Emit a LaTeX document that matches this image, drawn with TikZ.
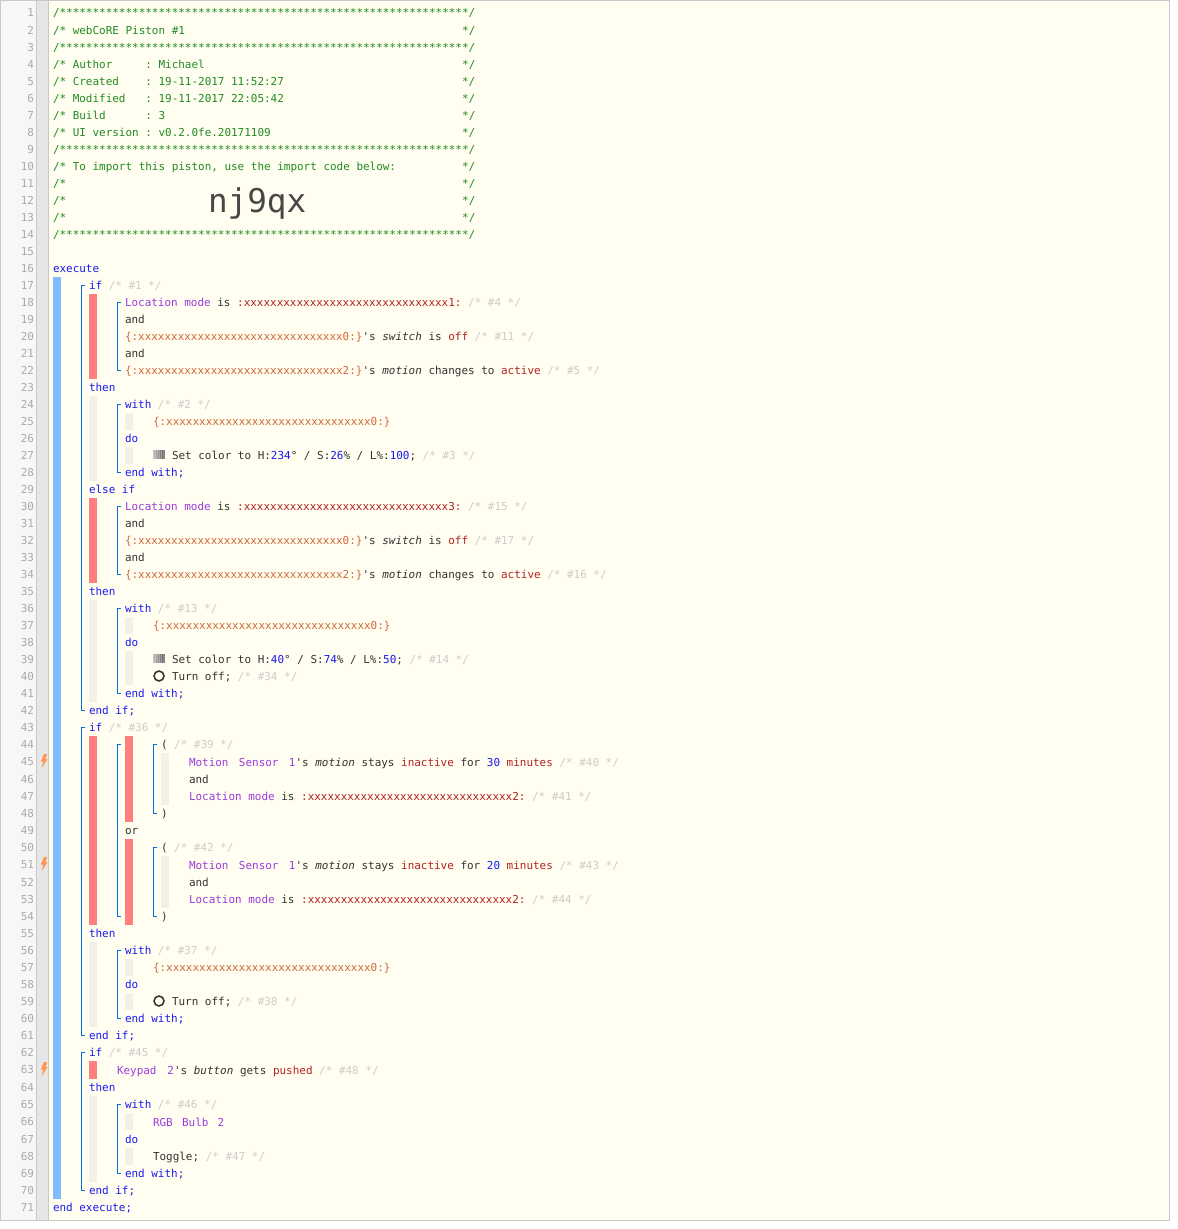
\documentclass[tikz,border=0pt]{standalone}
\usepackage{fontspec}
\setmonofont{DejaVu Sans Mono}
\definecolor{pagebg}{HTML}{FFFEF0}
\definecolor{numgut}{HTML}{F7F7F7}
\definecolor{foldgut}{HTML}{E6E6E6}
\definecolor{frameg}{HTML}{C8C8C8}
\definecolor{numtx}{HTML}{AAAAAA}
\definecolor{ccom}{HTML}{228B22}
\definecolor{ckw}{HTML}{1A1AEE}
\definecolor{cdev}{HTML}{9A3DE0}
\definecolor{cval}{HTML}{B22222}
\definecolor{cvar}{HTML}{D2693C}
\definecolor{cnote}{HTML}{CCCCCC}
\definecolor{ctxt}{HTML}{333333}
\definecolor{cnum}{HTML}{1A1AEE}
\definecolor{barblue}{HTML}{80BBFF}
\definecolor{barred}{HTML}{FF7F7F}
\definecolor{bargrey}{HTML}{F2F0E8}
\definecolor{brk}{HTML}{0072E0}
\definecolor{bolt}{HTML}{FF9650}
\newcommand\ws[1]{\hspace*{#1\dimexpr 4.95pt\relax}}
\newcommand\kw[1]{\textcolor{ckw}{#1}}
\newcommand\cmt[1]{\textcolor{ccom}{#1}}
\newcommand\nt[1]{\textcolor{cnote}{/* \##1 */}}
\newcommand\dvc[1]{\textcolor{cdev}{#1}}
\newcommand\vlu[1]{\textcolor{cval}{#1}}
\newcommand\vrb[1]{\textcolor{cvar}{#1}}
\newcommand\nmb[1]{\textcolor{cnum}{#1}}
\newcommand\xs{xxxxxxxxxxxxxxxxxxxxxxxxxxxxxxx}
\newcommand\starline{/**************************************************************/}
\newcommand\locm{\dvc{Location mode} is }
\newcommand\wide[1]{\hspace*{#1pt}}
\tikzset{
  x=0.75pt,y=-0.75pt,
  code/.style={anchor=base west,inner sep=0pt,outer sep=0pt,font=\ttfamily\fontsize{8.22pt}{10pt}\selectfont,text=ctxt},
  lineno/.style={anchor=base east,inner sep=0pt,outer sep=0pt,font=\ttfamily\fontsize{8.22pt}{10pt}\selectfont,text=numtx},
  bigcode/.style={anchor=base west,inner sep=0pt,outer sep=0pt,font=\ttfamily\fontsize{24.5pt}{28pt}\selectfont,text=ctxt!90},
  bracket/.style={draw=brk,line width=0.75pt},
}
\newcommand\blk[5]{\fill[#5] (#1,#2) rectangle (#3,#4);}
\newcommand\brkt[3]{\draw[bracket] (#1+3.5,#2) -- (#1,#2) -- (#1,#3) -- (#1+3.5,#3);}
\newcommand\cl[4]{\node[code] (t#1) at (#2,#3+4) {#4};}
\newcommand\hueicon[2]{%
  \foreach \ix/\sh in {0/22,1/30,2/24,3/36,4/30,5/42,6/34,7/48,8/40,9/55,10/45,11/50}{
    \fill[black!\sh] (#1+\ix,#2-5) rectangle (#1+\ix+1.05,#2+4);}}
\newcommand\onicon[2]{\draw[ctxt,line width=1.15pt] (#1,#2) circle (5);}
\newcommand\bolticon[2]{\fill[bolt] (#1+1,#2-7) -- (#1+4,#2-7) -- (#1+2.5,#2-2) -- (#1+4.5,#2-2) -- (#1-1.2,#2+7) -- (#1+0.2,#2+0.5) -- (#1-2.2,#2+0.5) -- cycle;}
\begin{document}
\begin{tikzpicture}
\useasboundingbox (0,0) rectangle (1178,1229);
\fill[white] (0,0) rectangle (1178,1229);
\fill[pagebg] (0,0) rectangle (1170,1221);
\fill[numgut] (0,0) rectangle (36.5,1221);
\fill[foldgut] (36.5,0) rectangle (48.5,1221);
\draw[frameg,line width=0.75pt] (36.5,0) -- (36.5,1221);
\draw[frameg,line width=0.75pt] (48.5,0) -- (48.5,1221);
\draw[frameg,line width=1pt] (0.5,0.5) rectangle (1169.5,1220.5);
\foreach \n/\y in {1/12,2/30,3/47,4/64,5/81,6/98,7/115,8/132,9/149,10/166,11/183,12/200,13/217,14/234,15/251,16/268,17/285,18/302,19/319,20/336,21/353,22/370,23/387,24/404,25/421,26/438,27/455,28/472,29/489,30/506,31/523,32/540,33/557,34/574,35/591,36/608,37/625,38/642,39/659,40/676,41/693,42/710,43/727,44/744,45/761,46/779,47/796,48/813,49/830,50/847,51/864,52/882,53/899,54/916,55/933,56/950,57/967,58/984,59/1001,60/1018,61/1035,62/1052,63/1069,64/1087,65/1104,66/1121,67/1139,68/1156,69/1173,70/1190,71/1207}
  {\node[lineno] (n\n) at (34,\y+4) {\n};}
\bolticon{43}{761}
\bolticon{43}{864}
\bolticon{43}{1069}
\blk{53}{277}{61}{1199}{barblue}
\blk{89}{294}{97}{379}{barred}
\blk{89}{396}{97}{481}{bargrey}
\blk{125}{413}{133}{430}{bargrey}
\blk{125}{447}{133}{464}{bargrey}
\blk{89}{498}{97}{583}{barred}
\blk{89}{600}{97}{702}{bargrey}
\blk{125}{617}{133}{634}{bargrey}
\blk{125}{651}{133}{685}{bargrey}
\blk{89}{736}{97}{925}{barred}
\blk{125}{736}{133}{822}{barred}
\blk{125}{839}{133}{925}{barred}
\blk{161}{753}{169}{805}{bargrey}
\blk{161}{856}{169}{908}{bargrey}
\blk{89}{942}{97}{1027}{bargrey}
\blk{125}{959}{133}{976}{bargrey}
\blk{125}{993}{133}{1010}{bargrey}
\blk{89}{1061}{97}{1079}{barred}
\blk{89}{1096}{97}{1182}{bargrey}
\blk{125}{1113}{133}{1130}{bargrey}
\blk{125}{1148}{133}{1165}{bargrey}
\brkt{81.5}{285}{710}
\brkt{81.5}{727}{1035}
\brkt{81.5}{1052}{1190}
\brkt{117.5}{302}{370}
\brkt{117.5}{404}{472}
\brkt{117.5}{506}{574}
\brkt{117.5}{608}{693}
\brkt{117.5}{744}{916}
\brkt{153.5}{744}{813}
\brkt{153.5}{847}{916}
\brkt{117.5}{950}{1018}
\brkt{117.5}{1104}{1173}
\cl{1}{53}{12}{\cmt{\starline}}
\cl{2}{53}{30}{\cmt{/* webCoRE Piston \#1\ws{42}*/}}
\cl{3}{53}{47}{\cmt{\starline}}
\cl{4}{53}{64}{\cmt{/* Author\ws{5}: Michael\ws{39}*/}}
\cl{5}{53}{81}{\cmt{/* Created\ws{4}: 19-11-2017 11:52:27\ws{27}*/}}
\cl{6}{53}{98}{\cmt{/* Modified\ws{3}: 19-11-2017 22:05:42\ws{27}*/}}
\cl{7}{53}{115}{\cmt{/* Build\ws{6}: 3\ws{45}*/}}
\cl{8}{53}{132}{\cmt{/* UI version : v0.2.0fe.20171109\ws{29}*/}}
\cl{9}{53}{149}{\cmt{\starline}}
\cl{10}{53}{166}{\cmt{/* To import this piston, use the import code below:\ws{10}*/}}
\cl{11}{53}{183}{\cmt{/*\ws{60}*/}}
\cl{12}{53}{200}{\cmt{/*\ws{60}*/}}
\node[bigcode] (code) at (208,212) {nj9qx};
\cl{13}{53}{217}{\cmt{/*\ws{60}*/}}
\cl{14}{53}{234}{\cmt{\starline}}
\cl{16}{53}{268}{\kw{execute}}
\cl{17}{89}{285}{\kw{if} \nt{1}}
\cl{18}{125}{302}{\locm\vlu{:\xs 1:} \nt{4}}
\cl{19}{125}{319}{and}
\cl{20}{125}{336}{\vrb{\{:\xs 0:\}}'s \textit{switch} is \vlu{off} \nt{11}}
\cl{21}{125}{353}{and}
\cl{22}{125}{370}{\vrb{\{:\xs 2:\}}'s \textit{motion} changes to \vlu{active} \nt{5}}
\cl{23}{89}{387}{\kw{then}}
\cl{24}{125}{404}{\kw{with} \nt{2}}
\cl{25}{153}{421}{\vrb{\{:\xs 0:\}}}
\cl{26}{125}{438}{\kw{do}}
\hueicon{153}{455}
\cl{27}{172}{455}{Set color to H:\nmb{234}° / S:\nmb{26}\% / L\%:\nmb{100}; \nt{3}}
\cl{28}{125}{472}{\kw{end with;}}
\cl{29}{89}{489}{\kw{else if}}
\cl{30}{125}{506}{\locm\vlu{:\xs 3:} \nt{15}}
\cl{31}{125}{523}{and}
\cl{32}{125}{540}{\vrb{\{:\xs 0:\}}'s \textit{switch} is \vlu{off} \nt{17}}
\cl{33}{125}{557}{and}
\cl{34}{125}{574}{\vrb{\{:\xs 2:\}}'s \textit{motion} changes to \vlu{active} \nt{16}}
\cl{35}{89}{591}{\kw{then}}
\cl{36}{125}{608}{\kw{with} \nt{13}}
\cl{37}{153}{625}{\vrb{\{:\xs 0:\}}}
\cl{38}{125}{642}{\kw{do}}
\hueicon{153}{659}
\cl{39}{172}{659}{Set color to H:\nmb{40}° / S:\nmb{74}\% / L\%:\nmb{50}; \nt{14}}
\onicon{159}{676}
\cl{40}{172}{676}{Turn off; \nt{34}}
\cl{41}{125}{693}{\kw{end with;}}
\cl{42}{89}{710}{\kw{end if;}}
\cl{43}{89}{727}{\kw{if} \nt{36}}
\cl{44}{161}{744}{( \nt{39}}
\cl{45}{189}{762}{\dvc{Motion \wide{2.85}Sensor \wide{2.85}1}'s \textit{motion} stays \vlu{inactive} for \nmb{30} \vlu{minutes} \nt{40}}
\cl{46}{189}{779}{and}
\cl{47}{189}{796}{\locm\vlu{:\xs 2:} \nt{41}}
\cl{48}{161}{813}{)}
\cl{49}{125}{830}{or}
\cl{50}{161}{847}{( \nt{42}}
\cl{51}{189}{865}{\dvc{Motion \wide{2.85}Sensor \wide{2.85}1}'s \textit{motion} stays \vlu{inactive} for \nmb{20} \vlu{minutes} \nt{43}}
\cl{52}{189}{882}{and}
\cl{53}{189}{899}{\locm\vlu{:\xs 2:} \nt{44}}
\cl{54}{161}{916}{)}
\cl{55}{89}{933}{\kw{then}}
\cl{56}{125}{950}{\kw{with} \nt{37}}
\cl{57}{153}{967}{\vrb{\{:\xs 0:\}}}
\cl{58}{125}{984}{\kw{do}}
\onicon{159}{1001}
\cl{59}{172}{1001}{Turn off; \nt{38}}
\cl{60}{125}{1018}{\kw{end with;}}
\cl{61}{89}{1035}{\kw{end if;}}
\cl{62}{89}{1052}{\kw{if} \nt{45}}
\cl{63}{117}{1070}{\dvc{Keypad \wide{3.2}2}'s \textit{button} gets \vlu{pushed} \nt{48}}
\cl{64}{89}{1087}{\kw{then}}
\cl{65}{125}{1104}{\kw{with} \nt{46}}
\cl{66}{153}{1122}{\dvc{RGB \wide{2}Bulb \wide{2}2}}
\cl{67}{125}{1139}{\kw{do}}
\cl{68}{153}{1156}{Toggle; \nt{47}}
\cl{69}{125}{1173}{\kw{end with;}}
\cl{70}{89}{1190}{\kw{end if;}}
\cl{71}{53}{1207}{\kw{end execute;}}
\end{tikzpicture}
\end{document}
